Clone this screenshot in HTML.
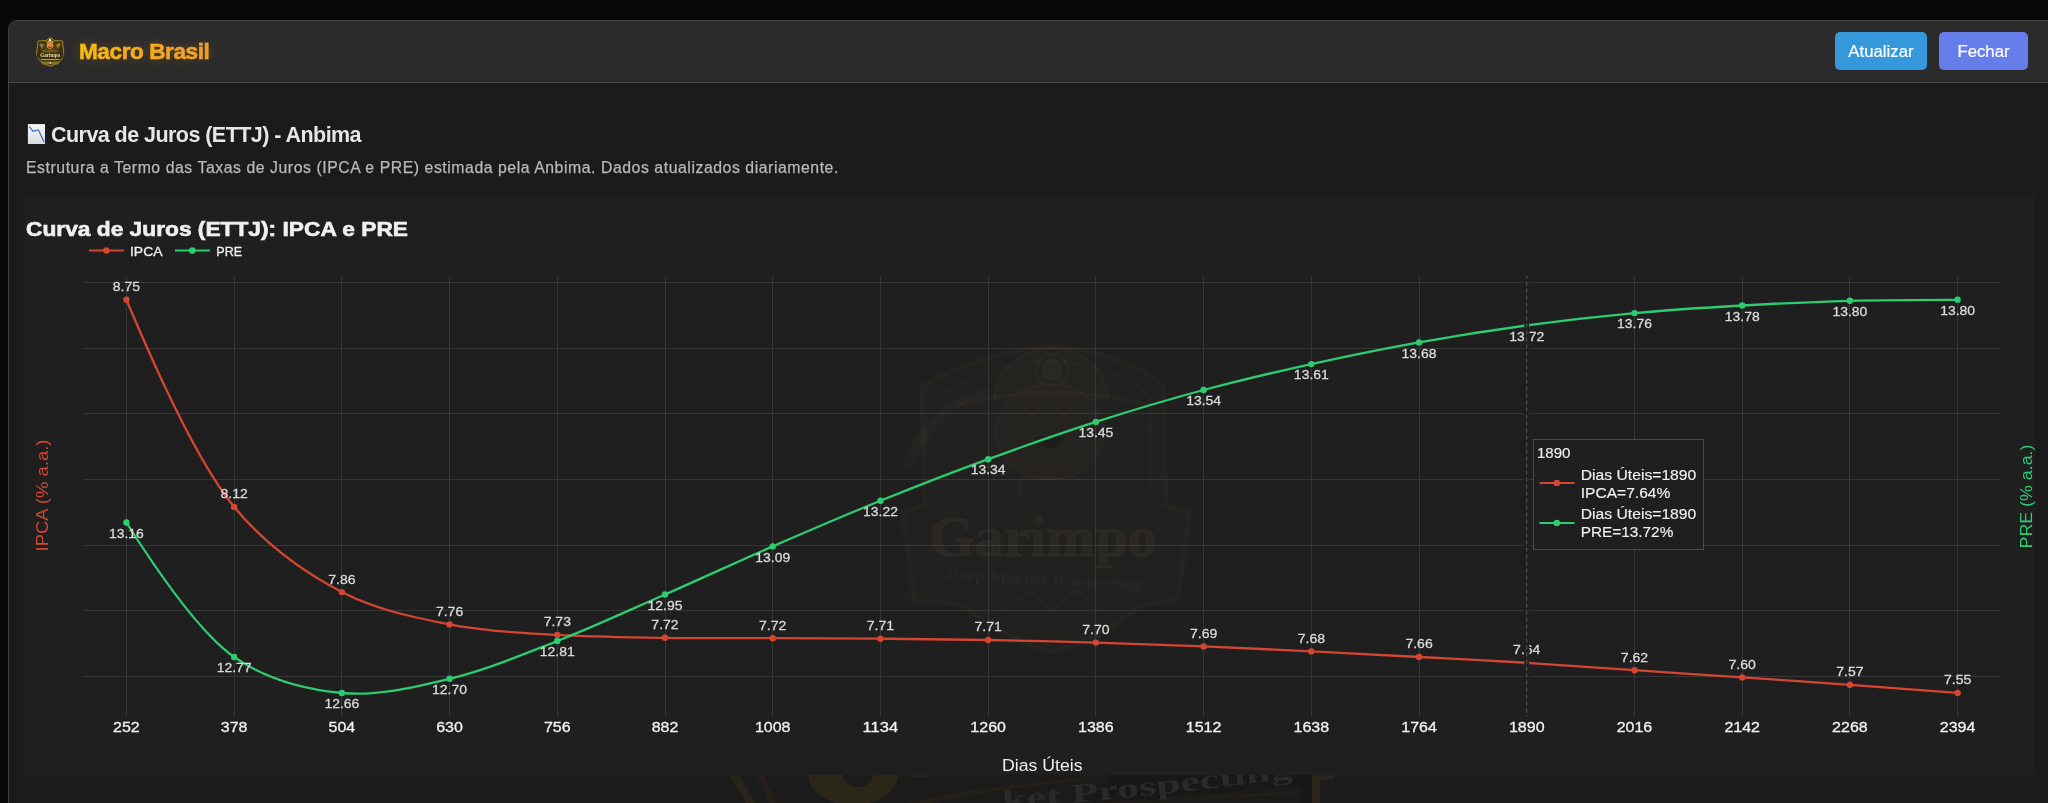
<!DOCTYPE html>
<html><head><meta charset="utf-8">
<style>
html,body{margin:0;padding:0;width:2048px;height:803px;overflow:hidden;background:#070707;font-family:"Liberation Sans",sans-serif;}
#panel{position:absolute;left:8px;top:20px;width:2060px;height:800px;background:#1b1b1b;border:1px solid #424242;border-radius:9px;overflow:hidden;will-change:transform;}
#hdr{position:absolute;left:0;top:0;right:0;height:61px;background:#2b2b2b;border-bottom:1px solid #464646;}
#brand{position:absolute;left:70px;top:17px;font-weight:bold;font-size:22.5px;letter-spacing:-0.38px;line-height:28px;white-space:nowrap;
 background:linear-gradient(90deg,#f5bb12,#f39a30);-webkit-background-clip:text;background-clip:text;color:transparent;-webkit-text-stroke:0.5px rgba(243,170,30,0.55);}
#brandglow{position:absolute;left:70px;top:17px;font-weight:bold;font-size:22.5px;letter-spacing:-0.38px;line-height:28px;white-space:nowrap;color:transparent;text-shadow:0 0 12px rgba(243,160,30,0.35);}
.btn{position:absolute;top:11px;height:38px;border-radius:5px;color:#fff;font-size:16.8px;line-height:39px;text-align:center;-webkit-text-stroke:0.2px #fff;}
#b1{left:1826px;width:92px;background:#3498db;}
#b2{left:1930px;width:89px;background:#667eea;}
#sec-title{position:absolute;left:42px;top:101.5px;font-size:21.5px;letter-spacing:-0.55px;font-weight:bold;color:#e6e6e6;white-space:nowrap;line-height:24px;}
#sec-desc{position:absolute;left:17px;-webkit-text-stroke:0.25px #b8b8b8;top:137px;font-size:15.8px;letter-spacing:0.555px;color:#b8b8b8;white-space:nowrap;line-height:20px;}
#chartbox{position:absolute;left:17px;top:175px;width:2011px;height:579px;background:#1f1f1f;}
svg#chart{position:absolute;left:0;top:0;}
.g{stroke:#363636;stroke-width:1;}
.dl{font-family:"Liberation Sans",sans-serif;font-size:13px;fill:#dadada;stroke:#dadada;stroke-width:0.3px;}
.tk{font-family:"Liberation Sans",sans-serif;font-size:14px;fill:#f0f0f0;stroke:#f0f0f0;stroke-width:0.3px;}
.ax{font-family:"Liberation Sans",sans-serif;font-size:16.3px;fill:#f0f0f0;stroke-width:0.2px;}
.tt{font-family:"Liberation Sans",sans-serif;font-size:20px;font-weight:bold;fill:#f0f0f0;stroke:#f0f0f0;stroke-width:0.6px;}
.lg{font-family:"Liberation Sans",sans-serif;font-size:13.6px;fill:#f0f0f0;stroke:#f0f0f0;stroke-width:0.3px;}
.hv{font-family:"Liberation Sans",sans-serif;font-size:14px;fill:#f0f0f0;stroke:#f0f0f0;stroke-width:0.15px;}
</style></head><body>
<div id="panel">
  <div id="hdr">
    <svg style="position:absolute;left:27px;top:15px;will-change:transform" width="30" height="32" viewBox="0 0 30 32">
      <defs><radialGradient id="lg1" cx="0.5" cy="0.4" r="0.65"><stop offset="0" stop-color="#5a4a18"/><stop offset="1" stop-color="#2a220c"/></radialGradient></defs>
      <path d="M2 5 L10 4.5 L14.2 1.5 L18.5 4.5 L26.5 5 L27.8 18 L26 23 Q22 28.5 14.2 30.3 Q6.5 28.5 2.5 23 L0.6 18 Z" fill="url(#lg1)" stroke="#a8852a" stroke-width="1"/>
      <path d="M9.5 6.5 Q14 1.8 18.5 6.5 Z" fill="#c9a33a"/>
      <circle cx="14" cy="4" r="1.2" fill="#f0e0a0"/>
      <circle cx="14" cy="9.6" r="3.3" fill="#e2883e"/>
      <path d="M12 10.8 Q14 12.5 16 10.8" stroke="#6a3010" stroke-width="0.9" fill="none"/>
      <path d="M3 8 Q6 6 8 9 L6 13 Z" fill="#9a8a50" opacity="0.8"/>
      <path d="M25 8 Q22 6 20 9 L22 13 Z" fill="#b08a30" opacity="0.8"/>
      <path d="M6 14 L22 14 L21 16 L7 16 Z" fill="#6a5a20"/>
      <path d="M1 17.5 L27.5 17.5 L27 22 L1.5 22 Z" fill="#3a2e0c"/>
      <text x="14.2" y="21.3" font-size="5.6" fill="#eadcaa" text-anchor="middle" font-family="Liberation Serif" font-weight="bold" textLength="20" lengthAdjust="spacingAndGlyphs">Garimpo</text>
      <path d="M5 23.6 L23.5 23.6" stroke="#d8c890" stroke-width="0.8"/>
      <path d="M4 25.5 L24.5 25.5 L22 28.5 L6.5 28.5 Z" fill="#8a7228"/>
      <circle cx="14.2" cy="26.8" r="0.9" fill="#f0e0a0"/>
    </svg>
    <div id="brandglow">Macro Brasil</div>
    <div id="brand">Macro Brasil</div>
    <div class="btn" id="b1">Atualizar</div>
    <div class="btn" id="b2">Fechar</div>
  </div>
  <svg style="position:absolute;left:18px;top:102px" width="18" height="21" viewBox="0 0 18 21">
    <defs><linearGradient id="eg" x1="0" y1="0" x2="0" y2="1"><stop offset="0" stop-color="#f4f6f8"/><stop offset="1" stop-color="#d6dbe2"/></linearGradient></defs>
    <rect x="0.9" y="1.1" width="17.2" height="20.6" fill="url(#eg)"/>
    <path d="M2.1 3.5 L6.1 8.4 L11.4 6.8 L17.1 18.9" fill="none" stroke="#2b5fb8" stroke-width="1.1"/>
  </svg>
  <div id="sec-title">Curva de Juros (ETTJ) - Anbima</div>
  <div id="sec-desc">Estrutura a Termo das Taxas de Juros (IPCA e PRE) estimada pela Anbima. Dados atualizados diariamente.</div>
</div>
<svg id="chartwrap" style="position:absolute;left:0;top:0;will-change:transform" width="2048" height="803">
  <g id="bwm">
    <path d="M729,775 L739,775 L756,803 L746,803 Z" fill="#29241a"/>
    <path d="M757,775 L764,775 L776,803 L769,803 Z" fill="#25211a"/>
    <path d="M808,775 A45,30 0 0 0 898,775 Z" fill="#2a2618"/>
    <path d="M843,775 A15,12 0 0 0 873,775 Z" fill="#1b1b1b"/>
    <path d="M904,775 Q918,781 932,775 Z" fill="#292519"/>
    <path d="M905,803 L985,788 L1100,776 L1108,776 L990,792 L930,803 Z" fill="#241f19"/>
    <path d="M1090,803 L1300,786 L1300,775 L1110,775 Z" fill="#181818"/>
    <path d="M1095,803 L1300,791 L1300,794 L1120,803 Z" fill="#221e18"/>
    <defs><path id="wmp" d="M1003,809 Q1150,797 1302,777"/></defs>
    <text font-family="Liberation Serif" font-weight="bold" font-size="27" fill="#2a2a2a"><textPath href="#wmp" textLength="292" lengthAdjust="spacingAndGlyphs">ket Prospecting</textPath></text>
    <path d="M1300,775 L1312,775 L1312,803 L1300,803 Z" fill="#171717"/>
    <path d="M1312,775 L1336,775 L1334,779 L1320,781 L1320,803 L1312,803 Z" fill="#29251a"/>
  </g>
  <rect x="25" y="195" width="2010" height="580" fill="#1f1f1f"/>
<line x1="84.0" y1="282.50" x2="2000.0" y2="282.50" class="g"/>
<line x1="84.0" y1="348.50" x2="2000.0" y2="348.50" class="g"/>
<line x1="84.0" y1="413.50" x2="2000.0" y2="413.50" class="g"/>
<line x1="84.0" y1="479.50" x2="2000.0" y2="479.50" class="g"/>
<line x1="84.0" y1="545.50" x2="2000.0" y2="545.50" class="g"/>
<line x1="84.0" y1="610.50" x2="2000.0" y2="610.50" class="g"/>
<line x1="84.0" y1="676.50" x2="2000.0" y2="676.50" class="g"/>
<line x1="126.50" y1="275.8" x2="126.50" y2="716.5" class="g"/>
<line x1="234.50" y1="275.8" x2="234.50" y2="716.5" class="g"/>
<line x1="341.50" y1="275.8" x2="341.50" y2="716.5" class="g"/>
<line x1="449.50" y1="275.8" x2="449.50" y2="716.5" class="g"/>
<line x1="557.50" y1="275.8" x2="557.50" y2="716.5" class="g"/>
<line x1="665.50" y1="275.8" x2="665.50" y2="716.5" class="g"/>
<line x1="772.50" y1="275.8" x2="772.50" y2="716.5" class="g"/>
<line x1="880.50" y1="275.8" x2="880.50" y2="716.5" class="g"/>
<line x1="988.50" y1="275.8" x2="988.50" y2="716.5" class="g"/>
<line x1="1095.50" y1="275.8" x2="1095.50" y2="716.5" class="g"/>
<line x1="1203.50" y1="275.8" x2="1203.50" y2="716.5" class="g"/>
<line x1="1311.50" y1="275.8" x2="1311.50" y2="716.5" class="g"/>
<line x1="1419.50" y1="275.8" x2="1419.50" y2="716.5" class="g"/>
<line x1="1526.50" y1="275.8" x2="1526.50" y2="716.5" class="g"/>
<line x1="1634.50" y1="275.8" x2="1634.50" y2="716.5" class="g"/>
<line x1="1742.50" y1="275.8" x2="1742.50" y2="716.5" class="g"/>
<line x1="1849.50" y1="275.8" x2="1849.50" y2="716.5" class="g"/>
<line x1="1957.50" y1="275.8" x2="1957.50" y2="716.5" class="g"/>
<g>
  <path d="M922,386 Q980,352 1052,346 Q1124,352 1164,386 L1166,505 L1190,512 L1178,600 L1140,606 Q1100,640 1052,652 Q1004,640 964,606 L914,600 L902,512 L924,505 Z" fill="rgba(110,90,60,0.03)" stroke="rgba(130,105,70,0.06)" stroke-width="5"/>
  <path d="M938,396 Q990,366 1052,360 Q1114,366 1150,396 L1152,500" fill="none" stroke="rgba(130,105,70,0.05)" stroke-width="3"/>
  <path d="M994,400 Q1000,352 1052,348 Q1104,352 1108,400" fill="rgba(120,100,70,0.035)" stroke="rgba(130,105,70,0.07)" stroke-width="3"/>
  <path d="M958,405 Q1052,380 1150,405" fill="none" stroke="rgba(130,105,70,0.07)" stroke-width="4"/>
  <circle cx="1052" cy="370" r="11" fill="rgba(140,120,90,0.07)"/>
  <circle cx="1052" cy="370" r="16" fill="none" stroke="rgba(130,105,70,0.07)" stroke-width="3"/>
  <ellipse cx="1050" cy="432" rx="55" ry="48" fill="rgba(120,95,60,0.04)" stroke="rgba(130,105,70,0.05)" stroke-width="3"/>
  <circle cx="1032" cy="410" r="6" fill="none" stroke="rgba(130,105,70,0.08)" stroke-width="3"/>
  <circle cx="1064" cy="410" r="6" fill="none" stroke="rgba(130,105,70,0.08)" stroke-width="3"/>
  <path d="M1032,436 Q1050,462 1068,436 Z" fill="rgba(10,10,10,0.25)" stroke="rgba(130,105,70,0.06)" stroke-width="2"/>
  <path d="M902,468 Q925,400 990,388 L985,396 Q935,410 912,470 Z" fill="rgba(130,105,70,0.07)"/>
  <rect x="1020" y="478" width="60" height="20" fill="none" stroke="rgba(130,105,70,0.05)" stroke-width="3"/>
  <text x="929" y="556" font-family="Liberation Serif" font-weight="bold" font-size="57" fill="rgba(140,115,80,0.09)" stroke="rgba(140,115,80,0.06)" stroke-width="1.5" textLength="228" lengthAdjust="spacingAndGlyphs">Garimpo</text>
  <text x="946" y="585" font-family="Liberation Serif" font-weight="bold" font-size="17" fill="rgba(140,115,80,0.07)" textLength="197" lengthAdjust="spacingAndGlyphs" transform="rotate(3 1045 580)">Deep Market Prospecting</text>
  <path d="M1000,612 L1030,592 L1052,612 L1075,590 L1105,612" fill="none" stroke="rgba(130,105,70,0.05)" stroke-width="4"/>
</g>

<path d="M126.40,299.80Q192.04,455.98 234.12,506.90C266.40,545.96 303.95,572.36 341.84,592.10C376.12,609.96 413.30,617.26 449.56,624.40C485.13,631.41 521.33,632.72 557.28,634.95C593.15,637.18 629.09,637.26 665.00,637.80C700.90,638.34 736.81,638.05 772.72,638.20C808.63,638.35 844.53,638.40 880.44,638.70C916.35,639.00 952.26,639.35 988.16,640.00C1024.07,640.65 1059.98,641.53 1095.88,642.60C1131.79,643.67 1167.70,644.93 1203.60,646.40C1239.51,647.87 1275.42,649.63 1311.32,651.40C1347.23,653.17 1383.13,655.10 1419.04,657.00C1454.95,658.90 1490.86,660.60 1526.76,662.80C1562.67,665.00 1598.57,667.77 1634.48,670.20C1670.39,672.63 1706.29,674.97 1742.20,677.40C1778.11,679.83 1814.02,682.22 1849.92,684.80Q1885.83,687.38 1957.64,692.90" fill="none" stroke="#d44632" stroke-width="2.3"/>
<path d="M126.40,522.50Q193.62,628.75 234.12,657.00C267.00,679.93 305.53,689.51 341.84,693.00C377.36,696.41 414.09,687.26 449.56,678.80C485.92,670.13 521.62,654.98 557.28,641.05C593.44,626.92 629.14,610.25 665.00,594.50C700.95,578.70 736.74,562.05 772.72,546.40C808.55,530.82 844.42,515.38 880.44,500.80C916.23,486.32 952.14,472.39 988.16,459.20C1023.95,446.10 1059.84,433.47 1095.88,421.90C1131.66,410.41 1167.57,399.66 1203.60,390.00C1239.38,380.41 1275.34,372.05 1311.32,364.10C1347.15,356.19 1383.06,348.86 1419.04,342.40C1454.88,335.97 1490.80,330.29 1526.76,325.40C1562.61,320.53 1598.54,316.42 1634.48,313.10C1670.35,309.79 1706.28,307.55 1742.20,305.50C1778.09,303.45 1814.01,301.75 1849.92,300.80Q1885.82,299.85 1957.64,299.80" fill="none" stroke="#2ecc71" stroke-width="2.3"/>
<circle cx="126.40" cy="299.80" r="3.2" fill="#d44632"/>
<circle cx="234.12" cy="506.90" r="3.2" fill="#d44632"/>
<circle cx="341.84" cy="592.10" r="3.2" fill="#d44632"/>
<circle cx="449.56" cy="624.40" r="3.2" fill="#d44632"/>
<circle cx="557.28" cy="634.95" r="3.2" fill="#d44632"/>
<circle cx="665.00" cy="637.80" r="3.2" fill="#d44632"/>
<circle cx="772.72" cy="638.20" r="3.2" fill="#d44632"/>
<circle cx="880.44" cy="638.70" r="3.2" fill="#d44632"/>
<circle cx="988.16" cy="640.00" r="3.2" fill="#d44632"/>
<circle cx="1095.88" cy="642.60" r="3.2" fill="#d44632"/>
<circle cx="1203.60" cy="646.40" r="3.2" fill="#d44632"/>
<circle cx="1311.32" cy="651.40" r="3.2" fill="#d44632"/>
<circle cx="1419.04" cy="657.00" r="3.2" fill="#d44632"/>
<circle cx="1526.76" cy="662.80" r="3.2" fill="#d44632"/>
<circle cx="1634.48" cy="670.20" r="3.2" fill="#d44632"/>
<circle cx="1742.20" cy="677.40" r="3.2" fill="#d44632"/>
<circle cx="1849.92" cy="684.80" r="3.2" fill="#d44632"/>
<circle cx="1957.64" cy="692.90" r="3.2" fill="#d44632"/>
<circle cx="126.40" cy="522.50" r="3.2" fill="#2ecc71"/>
<circle cx="234.12" cy="657.00" r="3.2" fill="#2ecc71"/>
<circle cx="341.84" cy="693.00" r="3.2" fill="#2ecc71"/>
<circle cx="449.56" cy="678.80" r="3.2" fill="#2ecc71"/>
<circle cx="557.28" cy="641.05" r="3.2" fill="#2ecc71"/>
<circle cx="665.00" cy="594.50" r="3.2" fill="#2ecc71"/>
<circle cx="772.72" cy="546.40" r="3.2" fill="#2ecc71"/>
<circle cx="880.44" cy="500.80" r="3.2" fill="#2ecc71"/>
<circle cx="988.16" cy="459.20" r="3.2" fill="#2ecc71"/>
<circle cx="1095.88" cy="421.90" r="3.2" fill="#2ecc71"/>
<circle cx="1203.60" cy="390.00" r="3.2" fill="#2ecc71"/>
<circle cx="1311.32" cy="364.10" r="3.2" fill="#2ecc71"/>
<circle cx="1419.04" cy="342.40" r="3.2" fill="#2ecc71"/>
<circle cx="1526.76" cy="325.40" r="3.2" fill="#2ecc71"/>
<circle cx="1634.48" cy="313.10" r="3.2" fill="#2ecc71"/>
<circle cx="1742.20" cy="305.50" r="3.2" fill="#2ecc71"/>
<circle cx="1849.92" cy="300.80" r="3.2" fill="#2ecc71"/>
<circle cx="1957.64" cy="299.80" r="3.2" fill="#2ecc71"/>
<text x="112.77" y="291.20" class="dl" textLength="27.3" lengthAdjust="spacingAndGlyphs">8.75</text>
<text x="220.49" y="498.30" class="dl" textLength="27.3" lengthAdjust="spacingAndGlyphs">8.12</text>
<text x="328.21" y="583.50" class="dl" textLength="27.3" lengthAdjust="spacingAndGlyphs">7.86</text>
<text x="435.93" y="615.80" class="dl" textLength="27.3" lengthAdjust="spacingAndGlyphs">7.76</text>
<text x="543.65" y="626.35" class="dl" textLength="27.3" lengthAdjust="spacingAndGlyphs">7.73</text>
<text x="651.37" y="629.20" class="dl" textLength="27.3" lengthAdjust="spacingAndGlyphs">7.72</text>
<text x="759.09" y="629.60" class="dl" textLength="27.3" lengthAdjust="spacingAndGlyphs">7.72</text>
<text x="866.81" y="630.10" class="dl" textLength="27.3" lengthAdjust="spacingAndGlyphs">7.71</text>
<text x="974.53" y="631.40" class="dl" textLength="27.3" lengthAdjust="spacingAndGlyphs">7.71</text>
<text x="1082.25" y="634.00" class="dl" textLength="27.3" lengthAdjust="spacingAndGlyphs">7.70</text>
<text x="1189.97" y="637.80" class="dl" textLength="27.3" lengthAdjust="spacingAndGlyphs">7.69</text>
<text x="1297.69" y="642.80" class="dl" textLength="27.3" lengthAdjust="spacingAndGlyphs">7.68</text>
<text x="1405.41" y="648.40" class="dl" textLength="27.3" lengthAdjust="spacingAndGlyphs">7.66</text>
<text x="1513.13" y="654.20" class="dl" textLength="27.3" lengthAdjust="spacingAndGlyphs">7.64</text>
<text x="1620.85" y="661.60" class="dl" textLength="27.3" lengthAdjust="spacingAndGlyphs">7.62</text>
<text x="1728.57" y="668.80" class="dl" textLength="27.3" lengthAdjust="spacingAndGlyphs">7.60</text>
<text x="1836.29" y="676.20" class="dl" textLength="27.3" lengthAdjust="spacingAndGlyphs">7.57</text>
<text x="1944.01" y="684.30" class="dl" textLength="27.3" lengthAdjust="spacingAndGlyphs">7.55</text>
<text x="108.96" y="537.70" class="dl" textLength="34.9" lengthAdjust="spacingAndGlyphs">13.16</text>
<text x="216.68" y="672.20" class="dl" textLength="34.9" lengthAdjust="spacingAndGlyphs">12.77</text>
<text x="324.40" y="708.20" class="dl" textLength="34.9" lengthAdjust="spacingAndGlyphs">12.66</text>
<text x="432.12" y="694.00" class="dl" textLength="34.9" lengthAdjust="spacingAndGlyphs">12.70</text>
<text x="539.84" y="656.25" class="dl" textLength="34.9" lengthAdjust="spacingAndGlyphs">12.81</text>
<text x="647.56" y="609.70" class="dl" textLength="34.9" lengthAdjust="spacingAndGlyphs">12.95</text>
<text x="755.28" y="561.60" class="dl" textLength="34.9" lengthAdjust="spacingAndGlyphs">13.09</text>
<text x="863.00" y="516.00" class="dl" textLength="34.9" lengthAdjust="spacingAndGlyphs">13.22</text>
<text x="970.72" y="474.40" class="dl" textLength="34.9" lengthAdjust="spacingAndGlyphs">13.34</text>
<text x="1078.44" y="437.10" class="dl" textLength="34.9" lengthAdjust="spacingAndGlyphs">13.45</text>
<text x="1186.16" y="405.20" class="dl" textLength="34.9" lengthAdjust="spacingAndGlyphs">13.54</text>
<text x="1293.88" y="379.30" class="dl" textLength="34.9" lengthAdjust="spacingAndGlyphs">13.61</text>
<text x="1401.60" y="357.60" class="dl" textLength="34.9" lengthAdjust="spacingAndGlyphs">13.68</text>
<text x="1509.32" y="340.60" class="dl" textLength="34.9" lengthAdjust="spacingAndGlyphs">13.72</text>
<text x="1617.04" y="328.30" class="dl" textLength="34.9" lengthAdjust="spacingAndGlyphs">13.76</text>
<text x="1724.76" y="320.70" class="dl" textLength="34.9" lengthAdjust="spacingAndGlyphs">13.78</text>
<text x="1832.48" y="316.00" class="dl" textLength="34.9" lengthAdjust="spacingAndGlyphs">13.80</text>
<text x="1940.20" y="315.00" class="dl" textLength="34.9" lengthAdjust="spacingAndGlyphs">13.80</text>
<line x1="1526.76" y1="275.8" x2="1526.76" y2="716.5" stroke="#1f1f1f" stroke-width="5"/>
<line x1="1526.76" y1="275.8" x2="1526.76" y2="716.5" stroke="#5a5a5a" stroke-width="1" stroke-dasharray="4,3" stroke-dashoffset="1.2"/>
<text x="113.05" y="732" class="tk" textLength="26.7" lengthAdjust="spacingAndGlyphs">252</text>
<text x="220.77" y="732" class="tk" textLength="26.7" lengthAdjust="spacingAndGlyphs">378</text>
<text x="328.49" y="732" class="tk" textLength="26.7" lengthAdjust="spacingAndGlyphs">504</text>
<text x="436.21" y="732" class="tk" textLength="26.7" lengthAdjust="spacingAndGlyphs">630</text>
<text x="543.93" y="732" class="tk" textLength="26.7" lengthAdjust="spacingAndGlyphs">756</text>
<text x="651.65" y="732" class="tk" textLength="26.7" lengthAdjust="spacingAndGlyphs">882</text>
<text x="754.92" y="732" class="tk" textLength="35.6" lengthAdjust="spacingAndGlyphs">1008</text>
<text x="862.64" y="732" class="tk" textLength="35.6" lengthAdjust="spacingAndGlyphs">1134</text>
<text x="970.36" y="732" class="tk" textLength="35.6" lengthAdjust="spacingAndGlyphs">1260</text>
<text x="1078.08" y="732" class="tk" textLength="35.6" lengthAdjust="spacingAndGlyphs">1386</text>
<text x="1185.80" y="732" class="tk" textLength="35.6" lengthAdjust="spacingAndGlyphs">1512</text>
<text x="1293.52" y="732" class="tk" textLength="35.6" lengthAdjust="spacingAndGlyphs">1638</text>
<text x="1401.24" y="732" class="tk" textLength="35.6" lengthAdjust="spacingAndGlyphs">1764</text>
<text x="1508.96" y="732" class="tk" textLength="35.6" lengthAdjust="spacingAndGlyphs">1890</text>
<text x="1616.68" y="732" class="tk" textLength="35.6" lengthAdjust="spacingAndGlyphs">2016</text>
<text x="1724.40" y="732" class="tk" textLength="35.6" lengthAdjust="spacingAndGlyphs">2142</text>
<text x="1832.12" y="732" class="tk" textLength="35.6" lengthAdjust="spacingAndGlyphs">2268</text>
<text x="1939.84" y="732" class="tk" textLength="35.6" lengthAdjust="spacingAndGlyphs">2394</text>
<text x="1002" y="770.6" class="ax" textLength="80.6" lengthAdjust="spacingAndGlyphs">Dias Úteis</text>
<text transform="translate(47.5,551.5) rotate(-90)" x="0" y="0" class="ax" fill="#d44632" style="fill:#d44632" textLength="112" lengthAdjust="spacingAndGlyphs">IPCA (% a.a.)</text>
<text transform="translate(2031.5,548.5) rotate(-90)" x="0" y="0" class="ax" style="fill:#2ecc71" textLength="104" lengthAdjust="spacingAndGlyphs">PRE (% a.a.)</text>
<text x="26" y="236" class="tt" textLength="382" lengthAdjust="spacingAndGlyphs">Curva de Juros (ETTJ): IPCA e PRE</text>
<line x1="89" y1="250.6" x2="124" y2="250.6" stroke="#d44632" stroke-width="2"/><circle cx="106.4" cy="250.6" r="3.3" fill="#d44632"/>
<text x="130" y="255.8" class="lg" textLength="32.5" lengthAdjust="spacingAndGlyphs">IPCA</text>
<line x1="175" y1="250.6" x2="210" y2="250.6" stroke="#2ecc71" stroke-width="2"/><circle cx="192.3" cy="250.6" r="3.3" fill="#2ecc71"/>
<text x="216.3" y="255.8" class="lg" textLength="25.8" lengthAdjust="spacingAndGlyphs">PRE</text>
<rect x="1533.5" y="439.5" width="170" height="110" fill="#1f1f1f" stroke="#4a4a4a" stroke-width="1"/>
<text x="1537" y="458" class="hv" textLength="33.5" lengthAdjust="spacingAndGlyphs">1890</text>
<line x1="1539.5" y1="483" x2="1574.5" y2="483" stroke="#d44632" stroke-width="2"/><circle cx="1556.8" cy="483" r="3.3" fill="#d44632"/>
<text x="1580.8" y="479.7" class="hv" textLength="115.5" lengthAdjust="spacingAndGlyphs">Dias Úteis=1890</text>
<text x="1580.8" y="497.6" class="hv" textLength="89.5" lengthAdjust="spacingAndGlyphs">IPCA=7.64%</text>
<line x1="1539.5" y1="523" x2="1574.5" y2="523" stroke="#2ecc71" stroke-width="2"/><circle cx="1556.8" cy="523" r="3.3" fill="#2ecc71"/>
<text x="1580.8" y="519" class="hv" textLength="115.5" lengthAdjust="spacingAndGlyphs">Dias Úteis=1890</text>
<text x="1580.8" y="537" class="hv" textLength="92.5" lengthAdjust="spacingAndGlyphs">PRE=13.72%</text>
</svg>
</body></html>
